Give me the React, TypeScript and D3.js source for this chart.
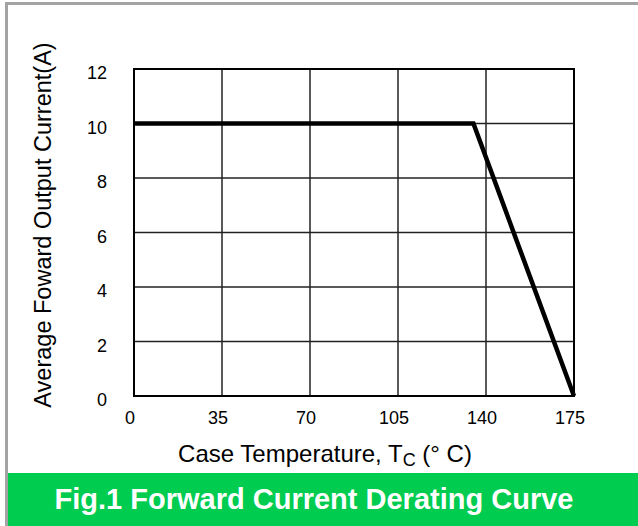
import React, { useEffect, useRef } from 'react';
import * as d3 from 'd3';

// chart values
const xTicks = [0, 35, 70, 105, 140, 175];
const yTicks = [0, 2, 4, 6, 8, 10, 12];
const tempC = [0, 135, 175];
const currentA = [10, 10, 0];
const title = 'Fig.1 Forward Current Derating Curve';

const W = 638;
const H = 526;
const font = 'Liberation Sans, Arial, sans-serif';

const App = () => {
  const ref = useRef<SVGSVGElement>(null);

  useEffect(() => {
    const svg = d3.select(ref.current);
    svg.selectAll('*').remove();

    const x = d3.scaleLinear().domain([0, 175]).range([134, 574]);
    const y = d3.scaleLinear().domain([0, 12]).range([396, 69]);

    // outer frame (grey left / top edge)
    svg.append('rect').attr('x', 0).attr('y', 0).attr('width', W).attr('height', H).attr('fill', '#fff');
    svg.append('rect').attr('x', 5).attr('y', 2).attr('width', 3).attr('height', H - 2).attr('fill', '#a3a3a3');
    svg.append('rect').attr('x', 5).attr('y', 2).attr('width', W - 5).attr('height', 3).attr('fill', '#a3a3a3');

    // grid
    const g = svg.append('g');
    g.selectAll('line.vx')
      .data(xTicks.slice(1, -1))
      .join('line')
      .attr('x1', d => x(d)).attr('x2', d => x(d))
      .attr('y1', y(12)).attr('y2', y(0))
      .attr('stroke', '#222').attr('stroke-width', 1.5);
    g.selectAll('line.hy')
      .data(yTicks.slice(1, -1))
      .join('line')
      .attr('x1', x(0)).attr('x2', x(175))
      .attr('y1', d => y(d)).attr('y2', d => y(d))
      .attr('stroke', '#222').attr('stroke-width', 1.5);

    g.append('rect')
      .attr('x', x(0)).attr('y', y(12))
      .attr('width', x(175) - x(0)).attr('height', y(0) - y(12))
      .attr('fill', 'none').attr('stroke', '#000').attr('stroke-width', 2);

    // curve
    const pts = tempC.map((t, i) => [t, currentA[i]] as [number, number]);
    const line = d3.line<[number, number]>().x(d => x(d[0])).y(d => y(d[1]));
    g.append('path')
      .attr('d', line(pts))
      .attr('fill', 'none').attr('stroke', '#000')
      .attr('stroke-width', 4.5).attr('stroke-linejoin', 'miter');

    // tick labels
    g.selectAll('text.yt')
      .data(yTicks)
      .join('text')
      .attr('x', 107).attr('y', d => y(d) + 10)
      .attr('text-anchor', 'end')
      .attr('font-family', font).attr('font-size', 18)
      .text(d => d);
    g.selectAll('text.xt')
      .data(xTicks)
      .join('text')
      .attr('x', d => x(d) - 4).attr('y', 424)
      .attr('text-anchor', 'middle')
      .attr('font-family', font).attr('font-size', 18)
      .text(d => d);

    // axis titles
    const xt = svg.append('text')
      .attr('x', 325).attr('y', 462)
      .attr('text-anchor', 'middle')
      .attr('font-family', font).attr('font-size', 24);
    xt.append('tspan').text('Case Temperature, T');
    xt.append('tspan').attr('font-size', 18).attr('dy', 4).text('C');
    xt.append('tspan').attr('dy', -4).text(' (° C)');

    svg.append('text')
      .attr('transform', 'translate(51,225) rotate(-90)')
      .attr('text-anchor', 'middle')
      .attr('font-family', font).attr('font-size', 23.5)
      .text('Average Foward Output Current(A)');

    // title band
    svg.append('rect').attr('x', 8).attr('y', 473).attr('width', W - 8).attr('height', H - 473).attr('fill', '#00cc4f');
    svg.append('text')
      .attr('x', 314).attr('y', 509)
      .attr('text-anchor', 'middle')
      .attr('font-family', font).attr('font-size', 29).attr('font-weight', 'bold')
      .attr('fill', '#fff')
      .text(title);
  }, []);

  return (
    <div style={{ position: 'absolute', left: 0, top: 0 }}>
      <svg ref={ref} width={W} height={H} style={{ display: 'block' }} />
    </div>
  );
};

export default App;
